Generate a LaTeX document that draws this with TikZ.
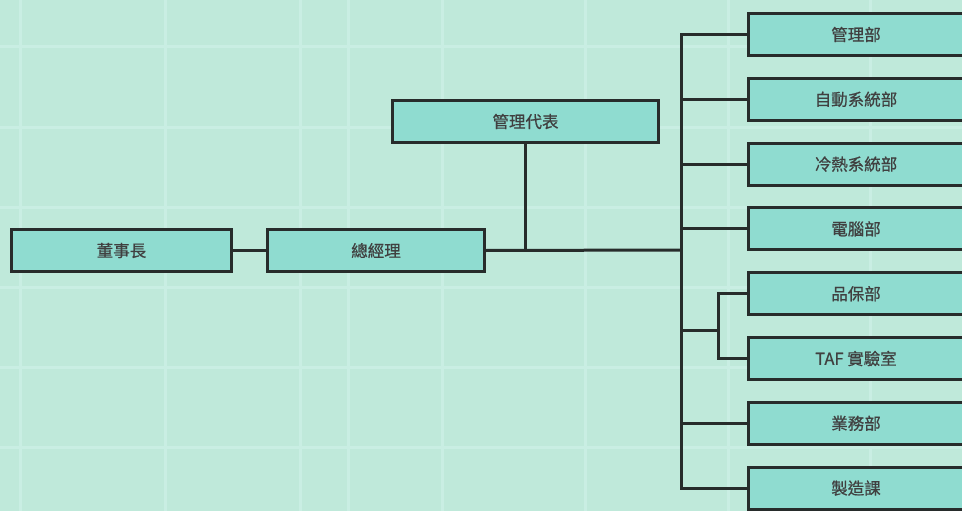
\documentclass[tikz,border=0pt]{standalone}
\usepackage{fontspec}
\newfontfamily\cjk[FakeBold=0.6]{Noto Sans CJK TC}
\usetikzlibrary{positioning}
\definecolor{bgcol}{HTML}{BFE9DA}
\definecolor{gridcol}{HTML}{C9EEE3}
\definecolor{boxcol}{HTML}{8FDCD0}
\definecolor{linecol}{HTML}{272C2B}

\begin{document}
\begin{tikzpicture}[x=1pt,y=-1pt,line width=3pt,node distance=19.8pt,
			unit/.style={rectangle,draw=linecol,fill=boxcol,minimum height=42pt,inner sep=0pt,
				font=\cjk\fontsize{16.5}{19}\selectfont,text=black!75},
			dept/.style={unit,minimum width=215pt}]
			\useasboundingbox (0,0) rectangle (962,511);
			\clip (0,0) rectangle (962,511);
			\fill[bgcol] (0,0) rectangle (962,511);
			\foreach \x in {20,165,300,348,442,585,728,870}
				\draw[gridcol,line width=3pt] (\x,0) -- (\x,511);
			\foreach \y in {47,127,207,287,367,447}
				\draw[gridcol,line width=3pt] (0,\y) -- (962,\y);
			
			\node[unit, minimum width=220pt] (1) at (121.5,250.5) {董事長};
			\node[unit, minimum width=217pt] (2) [right=33pt of 1] {總經理};
			\node[unit, minimum width=266pt] (3) at (525.5,121.5) {管理代表};
			
			\node[dept] (4) at (856,34.5) {管理部};
			\node[dept] (5) [below=of 4] {自動系統部};
			\node[dept] (6) [below=of 5] {冷熱系統部};
			\node[dept] (7) [below=of 6] {電腦部};
			\node[dept] (8) [below=of 7] {品保部};
			\node[dept] (9) [below=of 8] {TAF 實驗室};
			\node[dept] (10) [below=of 9] {業務部};
			\node[dept] (11) [below=of 10] {製造課};
			
			\coordinate (bus) at (681,250);
			\coordinate (sub) at (718,330);
			\begin{scope}[draw=linecol]
			\draw (1) -- (2);
			\draw (2.east) -- (bus);
			\draw (3.south) -- (3.south |- bus);
			\draw (4.west) -| (bus) |- (11.west);
			\draw (bus |- 5.west) -- (5.west);
			\draw (bus |- 6.west) -- (6.west);
			\draw (bus |- 7.west) -- (7.west);
			\draw (bus |- 10.west) -- (10.west);
			\draw (bus |- sub) -- (sub);
			\draw (8.west) -| (sub) |- (9.west);
			\end{scope}
		\end{tikzpicture}
\end{document}
